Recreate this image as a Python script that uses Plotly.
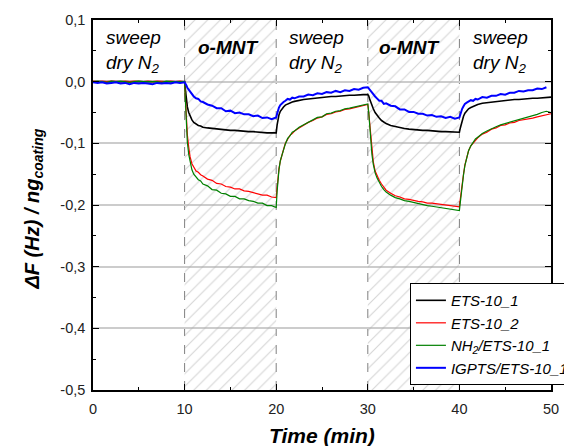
import plotly.graph_objects as go

# ---------------- data ----------------
time_min = [
    0, 0.5, 1, 1.5, 2, 2.5, 3, 3.5, 4, 4.5, 5, 5.5, 6, 6.5, 7, 7.5, 8, 8.5, 9, 9.5, 10,
    10.1, 10.2, 10.3, 10.45, 10.6, 10.8, 11, 11.25, 11.5, 11.75, 12, 12.5, 13, 13.5, 14, 14.5,
    15, 15.5, 16, 16.5, 17, 17.5, 18, 18.5, 19, 19.5, 20,
    20.1, 20.2, 20.3, 20.45, 20.6, 20.8, 21, 21.25, 21.5, 21.75, 22, 22.5, 23, 23.5, 24, 24.5,
    25, 25.5, 26, 26.5, 27, 27.5, 28, 28.5, 29, 29.5, 30,
    30.1, 30.2, 30.3, 30.45, 30.6, 30.8, 31, 31.25, 31.5, 31.75, 32, 32.5, 33, 33.5, 34, 34.5,
    35, 35.5, 36, 36.5, 37, 37.5, 38, 38.5, 39, 39.5, 40,
    40.1, 40.2, 40.3, 40.45, 40.6, 40.8, 41, 41.25, 41.5, 41.75, 42, 42.5, 43, 43.5, 44, 44.5,
    45, 45.5, 46, 46.5, 47, 47.5, 48, 48.5, 49, 49.5, 50,
]

ets10_1 = [
    0.000, 0.000, -0.001, 0.000, 0.000, -0.001, 0.000, 0.000, -0.001, 0.000, 0.000, -0.001, 0.000, 0.000, -0.001, 0.000, -0.001, 0.000, -0.001, 0.000, 0.000,
    -0.015, -0.030, -0.041, -0.050, -0.056, -0.062, -0.066, -0.069, -0.071, -0.072, -0.074, -0.075, -0.076, -0.077, -0.078, -0.078, -0.079, -0.079, -0.080, -0.080, -0.081, -0.081, -0.082, -0.082, -0.083, -0.083, -0.083,
    -0.070, -0.060, -0.054, -0.048, -0.044, -0.041, -0.038, -0.036, -0.034, -0.033, -0.032, -0.030, -0.029, -0.028, -0.027, -0.026, -0.025, -0.025, -0.024, -0.024, -0.023, -0.023, -0.022, -0.022, -0.021, -0.021, -0.021,
    -0.023, -0.028, -0.033, -0.039, -0.044, -0.050, -0.055, -0.059, -0.063, -0.066, -0.068, -0.071, -0.073, -0.075, -0.076, -0.077, -0.078, -0.078, -0.079, -0.079, -0.080, -0.080, -0.081, -0.081, -0.081, -0.082, -0.082,
    -0.075, -0.068, -0.062, -0.056, -0.051, -0.047, -0.044, -0.042, -0.040, -0.038, -0.037, -0.035, -0.034, -0.033, -0.032, -0.031, -0.030, -0.030, -0.029, -0.029, -0.028, -0.028, -0.027, -0.027, -0.026, -0.026, -0.025,
]

ets10_2 = [
    0.001, 0.000, 0.001, 0.000, 0.001, 0.000, 0.000, 0.001, 0.000, 0.001, 0.000, 0.000, 0.001, 0.000, 0.001, 0.000, 0.000, 0.001, 0.000, 0.001, 0.000,
    -0.030, -0.062, -0.086, -0.106, -0.122, -0.133, -0.139, -0.145, -0.147, -0.151, -0.153, -0.158, -0.160, -0.165, -0.166, -0.170, -0.171, -0.174, -0.174, -0.177, -0.178, -0.180, -0.181, -0.184, -0.184, -0.187, -0.188,
    -0.170, -0.154, -0.141, -0.129, -0.119, -0.110, -0.100, -0.093, -0.087, -0.084, -0.080, -0.075, -0.070, -0.066, -0.063, -0.059, -0.057, -0.053, -0.052, -0.049, -0.048, -0.045, -0.044, -0.042, -0.041, -0.038, -0.037,
    -0.050, -0.068, -0.090, -0.115, -0.130, -0.145, -0.152, -0.160, -0.166, -0.172, -0.176, -0.181, -0.185, -0.187, -0.190, -0.191, -0.193, -0.194, -0.195, -0.197, -0.197, -0.198, -0.199, -0.201, -0.201, -0.202, -0.203,
    -0.190, -0.176, -0.163, -0.150, -0.135, -0.122, -0.112, -0.104, -0.099, -0.094, -0.091, -0.085, -0.082, -0.077, -0.075, -0.071, -0.070, -0.067, -0.066, -0.063, -0.062, -0.060, -0.059, -0.057, -0.055, -0.054, -0.052,
]

nh2_ets10_1 = [
    0.000, 0.001, 0.000, -0.001, 0.001, 0.000, 0.001, 0.000, -0.001, 0.000, 0.001, 0.000, 0.000, 0.001, 0.000, -0.001, 0.001, 0.000, 0.000, 0.001, 0.000,
    -0.035, -0.072, -0.098, -0.118, -0.132, -0.143, -0.150, -0.155, -0.159, -0.161, -0.166, -0.169, -0.175, -0.176, -0.181, -0.182, -0.186, -0.186, -0.190, -0.190, -0.193, -0.194, -0.197, -0.197, -0.201, -0.201, -0.204,
    -0.178, -0.157, -0.143, -0.128, -0.120, -0.110, -0.101, -0.092, -0.088, -0.082, -0.080, -0.074, -0.070, -0.065, -0.062, -0.058, -0.057, -0.052, -0.051, -0.048, -0.047, -0.044, -0.043, -0.041, -0.040, -0.037, -0.036,
    -0.050, -0.070, -0.093, -0.118, -0.134, -0.148, -0.156, -0.164, -0.170, -0.175, -0.179, -0.184, -0.188, -0.190, -0.193, -0.194, -0.196, -0.198, -0.199, -0.201, -0.202, -0.203, -0.204, -0.206, -0.207, -0.208, -0.209,
    -0.196, -0.180, -0.165, -0.151, -0.136, -0.123, -0.112, -0.104, -0.098, -0.093, -0.090, -0.084, -0.080, -0.076, -0.073, -0.070, -0.068, -0.066, -0.063, -0.061, -0.059, -0.057, -0.055, -0.053, -0.050, -0.048, -0.050,
]

igpts_ets10_1 = [
    -0.001, -0.002, -0.001, -0.003, -0.002, -0.001, -0.003, -0.002, -0.004, -0.002, -0.003, -0.002, -0.003, -0.004, -0.002, -0.003, -0.002, -0.003, -0.001, -0.002, -0.001,
    -0.003, -0.006, -0.010, -0.013, -0.017, -0.020, -0.024, -0.027, -0.028, -0.032, -0.033, -0.037, -0.039, -0.043, -0.043, -0.048, -0.047, -0.051, -0.050, -0.053, -0.053, -0.056, -0.055, -0.059, -0.058, -0.061, -0.058,
    -0.052, -0.046, -0.042, -0.038, -0.035, -0.033, -0.031, -0.028, -0.029, -0.026, -0.027, -0.024, -0.024, -0.021, -0.022, -0.019, -0.020, -0.017, -0.018, -0.015, -0.017, -0.014, -0.015, -0.012, -0.013, -0.010, -0.009,
    -0.011, -0.014, -0.016, -0.019, -0.021, -0.024, -0.027, -0.031, -0.031, -0.036, -0.035, -0.039, -0.040, -0.045, -0.045, -0.049, -0.049, -0.052, -0.052, -0.055, -0.054, -0.057, -0.056, -0.059, -0.057, -0.060, -0.058,
    -0.053, -0.048, -0.044, -0.040, -0.036, -0.034, -0.032, -0.030, -0.031, -0.028, -0.029, -0.025, -0.026, -0.023, -0.023, -0.020, -0.021, -0.018, -0.018, -0.015, -0.016, -0.014, -0.014, -0.011, -0.012, -0.009, None,
]

series_names = ["ETS-10_1", "ETS-10_2", "NH<sub>2</sub>/ETS-10_1", "IGPTS/ETS-10_1"]
series_colors = ["#000000", "#ff0000", "#008000", "#0000ff"]

exposure_windows = [(10, 20), (30, 40)]
phase_labels = ["sweep<br>dry N<sub>2</sub>", "<b>o-MNT</b>", "sweep<br>dry N<sub>2</sub>",
                "<b>o-MNT</b>", "sweep<br>dry N<sub>2</sub>"]
phase_label_x = [4.4, 14.7, 24.4, 34.55, 44.5]
phase_label_y = [0.049, 0.055, 0.049, 0.055, 0.049]

x_ticks = [0, 10, 20, 30, 40, 50]
x_tick_labels = ["0", "10", "20", "30", "40", "50"]
y_ticks = [0.1, 0.0, -0.1, -0.2, -0.3, -0.4, -0.5]
y_tick_labels = ["0,1", "0,0", "-0,1", "-0,2", "-0,3", "-0,4", "-0,5"]

for s in (ets10_1, ets10_2, nh2_ets10_1, igpts_ets10_1):
    assert len(s) == len(time_min), (len(s), len(time_min))

FONT = "Liberation Sans, Arial, sans-serif"

fig = go.Figure()

# hatched exposure windows
for (a, b) in exposure_windows:
    fig.add_trace(go.Scatter(
        x=[a, b, b, a, a], y=[-0.5, -0.5, 0.1, 0.1, -0.5],
        mode="lines", line=dict(width=0), fill="toself",
        fillcolor="rgba(0,0,0,0)",
        fillpattern=dict(shape="/", fgcolor="#aaaaaa", bgcolor="rgba(0,0,0,0)",
                         size=9, solidity=0.12),
        showlegend=False, hoverinfo="skip"))

widths = [1.6, 1.2, 1.2, 2.0]
for name, ys, col, w in zip(series_names, [ets10_1, ets10_2, nh2_ets10_1, igpts_ets10_1],
                            series_colors, widths):
    fig.add_trace(go.Scatter(x=time_min, y=ys, mode="lines", name=name,
                             line=dict(color=col, width=w)))

# dashed phase boundaries
for xb in [10, 20, 30, 40]:
    fig.add_shape(type="line", x0=xb, x1=xb, y0=-0.5, y1=0.1, xref="x", yref="y",
                  line=dict(color="#808080", width=1, dash="dash"), layer="below")

for txt, xx, yy in zip(phase_labels, phase_label_x, phase_label_y):
    fig.add_annotation(x=xx, y=yy, xref="x", yref="y", text=txt, showarrow=False,
                       align="left", xanchor="center", yanchor="middle",
                       font=dict(family=FONT, size=19, color="black", style="italic"))

fig.add_annotation(x=0.5, y=-0.122, xref="paper", yref="paper",
                   xanchor="center", yanchor="middle",
                   text="<b><i>Time (min)</i></b>", showarrow=False,
                   font=dict(family=FONT, size=21, color="black"))
fig.add_annotation(x=-0.129, y=0.49, xref="paper", yref="paper", textangle=-90,
                   xanchor="center", yanchor="middle",
                   text="<b><i>ΔF (Hz) / ng<sub>coating</sub></i></b>", showarrow=False,
                   font=dict(family=FONT, size=20, color="black"))

axis_common = dict(showline=True, linecolor="black", linewidth=1.5, mirror="allticks",
                   ticks="inside", ticklen=6, tickwidth=1.2, tickcolor="black",
                   zeroline=False, tickfont=dict(family=FONT, size=14.5, color="#222"))

# the page body has an 8px margin, so the margins are shifted by 8px
fig.update_layout(
    width=572, height=446,
    margin=dict(l=85, r=29, t=12, b=64, autoexpand=False),
    paper_bgcolor="white", plot_bgcolor="white",
    xaxis=dict(range=[0, 50], tickvals=x_ticks, ticktext=x_tick_labels, showgrid=False,
               ticklabelstandoff=5,
               minor=dict(ticks="inside", ticklen=3, dtick=5, tick0=0, tickcolor="black",
                          showgrid=False),
               **axis_common),
    yaxis=dict(range=[-0.5, 0.1], tickvals=y_ticks, ticktext=y_tick_labels, showgrid=True,
               gridcolor="#cccccc", gridwidth=1.5, ticklabelstandoff=3,
               minor=dict(ticks="inside", ticklen=3, dtick=0.05, tick0=0, tickcolor="black",
                          showgrid=False),
               **axis_common),
    legend=dict(x=0.692, y=0.289, xanchor="left", yanchor="top", bgcolor="white",
                bordercolor="black", borderwidth=1,
                font=dict(family=FONT, size=15, color="black", style="italic"),
                tracegroupgap=0),
    showlegend=True,
)

fig.write_html("out.html")
